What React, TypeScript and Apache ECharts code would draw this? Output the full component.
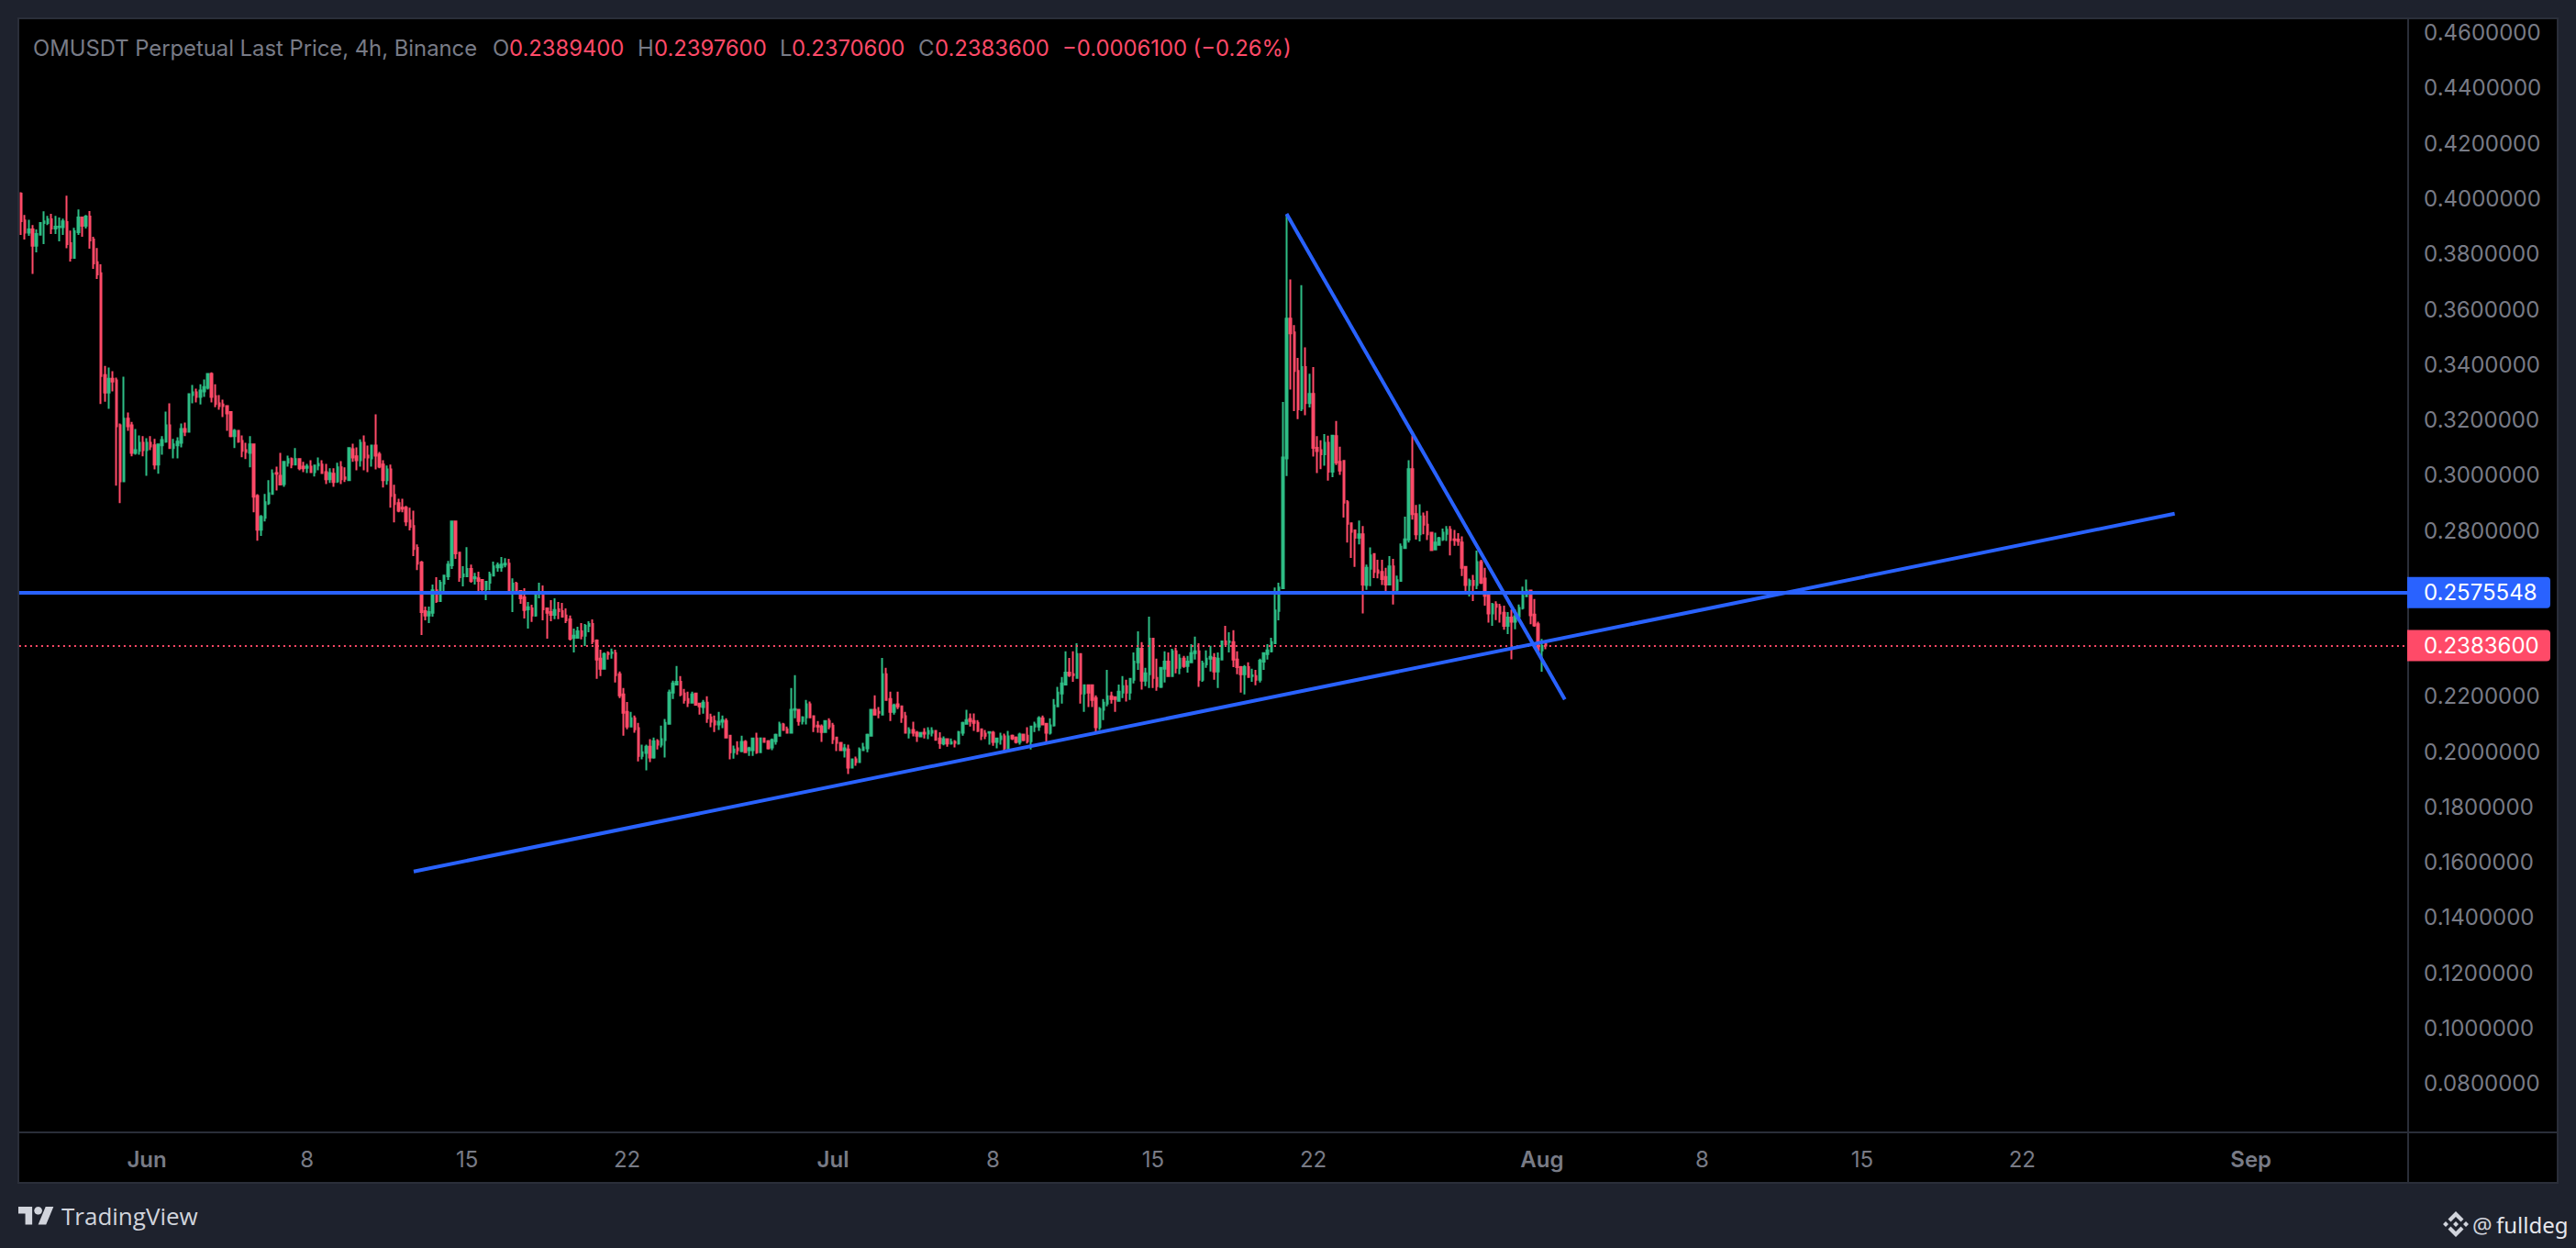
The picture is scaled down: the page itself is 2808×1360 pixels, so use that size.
import React, { useEffect, useRef } from "react";
import * as echarts from "echarts";

// [open, close, low, high], 4h candles
const candlesLateMay = [
[.4018,.3919,.3869,.4023],[.3921,.3877,.3852,.3941],[.3877,.3889,.3866,.3924],[.3889,.3830,.3728,.3905],[.3830,.3872,.3806,.3889],[.3870,.3912,.3870,.3915],
[.3912,.3918,.3836,.3954],[.3912,.3925,.3905,.3938],[.3925,.3892,.3872,.3945],[.3892,.3899,.3872,.3938],[.3897,.3899,.3846,.3932],[.3897,.3918,.3869,.3928],
[.3915,.3836,.3821,.4011],[.3839,.3786,.3773,.3885],[.3786,.3882,.3786,.3895],[.3879,.3932,.3869,.3961],[.3932,.3902,.3862,.3935],[.3902,.3935,.3892,.3941],
[.3935,.3849,.3819,.3955],[.3852,.3766,.3746,.3862],[.3770,.3726,.3710,.3822],[.3730,.3359,.3257,.3763],[.3362,.3299,.3266,.3395],[.3299,.3349,.3240,.3389],
[.3349,.3339,.3303,.3376],[.3343,.3177,.2962,.3353],[.3180,.2978,.2899,.3187],[.2978,.3204,.2975,.3356],[.3204,.3177,.3160,.3227],[.3180,.3081,.3068,.3193],
[.3081,.3091,.3074,.3167],[.3088,.3117,.3074,.3144],[.3117,.3091,.3068,.3141],
];
const candlesJune = [
[.3091,.3117,.2998,.3134],[.3117,.3104,.3091,.3141],[.3108,.3038,.3021,.3131],[.3038,.3111,.3005,.3111],[.3108,.3127,.3074,.3141],[.3121,.3180,.3117,.3230],
[.3180,.3098,.3098,.3260],[.3098,.3111,.3061,.3131],[.3108,.3121,.3061,.3137],[.3117,.3167,.3101,.3187],[.3167,.3157,.3141,.3190],[.3157,.3293,.3157,.3296],
[.3290,.3300,.3260,.3326],[.3300,.3283,.3263,.3313],[.3283,.3306,.3256,.3329],[.3303,.3319,.3283,.3346],[.3316,.3366,.3310,.3369],[.3366,.3283,.3263,.3372],
[.3286,.3257,.3246,.3329],[.3260,.3250,.3237,.3290],[.3256,.3250,.3210,.3273],[.3250,.3223,.3160,.3250],[.3228,.3141,.3137,.3230],[.3141,.3160,.3098,.3167],
[.3160,.3121,.3117,.3164],[.3124,.3088,.3065,.3144],[.3091,.3084,.3058,.3117],[.3081,.3111,.3028,.3141],[.3111,.2922,.2866,.3114],[.2925,.2803,.2763,.2931],
[.2803,.2849,.2780,.2856],[.2846,.2902,.2833,.2932],[.2899,.2935,.2892,.2982],[.2932,.3005,.2932,.3021],[.3008,.3005,.2945,.3031],[.2998,.2966,.2965,.3081],
[.2968,.3048,.2958,.3048],[.3045,.3058,.3031,.3071],[.3058,.3038,.3025,.3064],[.3038,.3058,.3038,.3098],[.3058,.3025,.3018,.3061],[.3031,.3025,.3011,.3048],
[.3027,.3031,.3008,.3041],[.3031,.3011,.3008,.3054],[.3011,.3035,.2995,.3038],[.3035,.3041,.3018,.3064],[.3038,.3008,.3005,.3054],[.3011,.2985,.2968,.3041],
[.2985,.3008,.2972,.3025],[.3005,.2975,.2958,.3025],[.2978,.3028,.2972,.3045],[.3028,.2985,.2968,.3051],[.2992,.2987,.2975,.3028],[.2982,.3098,.2982,.3101],
[.3094,.3064,.3048,.3114],[.3068,.3054,.3018,.3101],[.3054,.3117,.3031,.3130],[.3117,.3064,.3018,.3144],[.3071,.3064,.3011,.3107],[.3061,.3107,.3031,.3107],
[.3107,.3071,.3021,.3220],[.3075,.3031,.3025,.3084],[.3038,.2982,.2955,.3054],[.2982,.3021,.2965,.3035],[.3021,.2925,.2882,.3038],[.2929,.2896,.2829,.2965],
[.2899,.2872,.2866,.2915],[.2882,.2879,.2866,.2915],[.2882,.2833,.2816,.2889],[.2836,.2813,.2800,.2882],[.2816,.2733,.2707,.2872],[.2737,.2680,.2657,.2750],
[.2684,.2505,.2422,.2690],[.2508,.2492,.2475,.2525],[.2492,.2505,.2465,.2525],[.2502,.2584,.2488,.2604],[.2584,.2545,.2538,.2631],[.2545,.2611,.2545,.2621],
[.2608,.2637,.2574,.2637],[.2634,.2677,.2621,.2690],[.2674,.2833,.2661,.2836],[.2833,.2717,.2697,.2836],[.2720,.2631,.2614,.2723],[.2634,.2641,.2598,.2671],
[.2634,.2661,.2634,.2740],[.2661,.2618,.2611,.2677],[.2627,.2631,.2604,.2647],[.2627,.2618,.2574,.2651],[.2621,.2588,.2578,.2624],[.2588,.2614,.2548,.2617],
[.2611,.2641,.2584,.2651],[.2637,.2670,.2637,.2687],[.2667,.2674,.2651,.2684],[.2667,.2677,.2651,.2704],[.2677,.2680,.2667,.2700],[.2680,.2574,.2568,.2697],
[.2574,.2608,.2505,.2627],[.2608,.2574,.2571,.2614],[.2581,.2555,.2535,.2584],[.2558,.2512,.2482,.2591],[.2515,.2522,.2445,.2541],[.2518,.2492,.2469,.2531],
[.2492,.2575,.2488,.2581],[.2575,.2578,.2555,.2611],[.2575,.2515,.2475,.2601],[.2518,.2502,.2409,.2518],[.2505,.2495,.2472,.2548],[.2495,.2512,.2479,.2555],
[.2515,.2508,.2479,.2541],[.2508,.2488,.2488,.2538],[.2492,.2475,.2465,.2518],[.2478,.2409,.2402,.2492],[.2412,.2419,.2359,.2445],[.2412,.2435,.2409,.2452],
[.2435,.2419,.2406,.2465],[.2419,.2455,.2382,.2462],[.2455,.2462,.2432,.2472],[.2462,.2399,.2389,.2478],[.2402,.2333,.2263,.2406],[.2336,.2300,.2273,.2369],
[.2300,.2353,.2297,.2359],[.2356,.2353,.2333,.2363],[.2356,.2359,.2336,.2373],[.2356,.2277,.2250,.2369],[.2280,.2204,.2194,.2290],[.2207,.2141,.2058,.2230],
[.2144,.2091,.2081,.2180],[.2091,.2121,.2091,.2144],[.2121,.2081,.2068,.2131],[.2085,.1985,.1965,.2104],[.1985,.1998,.1972,.2025],[.1995,.2018,.1932,.2025],
[.2018,.1979,.1962,.2045],[.1979,.2038,.1975,.2051],[.2038,.2025,.2008,.2045],[.2025,.2045,.2015,.2094],[.2042,.2104,.1979,.2118],[.2101,.2214,.2098,.2224],
[.2214,.2247,.2190,.2257],[.2243,.2253,.2243,.2310],[.2253,.2207,.2200,.2273],[.2210,.2187,.2174,.2227],[.2190,.2177,.2161,.2217],[.2177,.2207,.2174,.2217],
[.2210,.2170,.2167,.2214],[.2174,.2164,.2134,.2177],[.2161,.2177,.2137,.2187],[.2177,.2121,.2104,.2200],[.2124,.2108,.2088,.2137],[.2111,.2098,.2071,.2131],
[.2098,.2108,.2078,.2144],[.2108,.2114,.2085,.2131],[.2111,.2051,.2051,.2121],[.2058,.1998,.1972,.2061],[.1998,.2008,.1975,.2022],[.2012,.2005,.1989,.2038],
[.2002,.2035,.1998,.2058],[.2035,.1998,.1995,.2042],[.2005,.2012,.1985,.2018],[.2005,.2048,.1985,.2051],[.2048,.1998,.1992,.2068],[.1998,.2048,.1998,.2048],
[.2048,.2035,.2032,.2051],[.2038,.2012,.2008,.2042],[.2015,.2042,.2005,.2048],[.2038,.2061,.2025,.2065],[.2058,.2098,.2058,.2108],[.2098,.2078,.2075,.2104],
];
const candlesJuly = [
[.2081,.2068,.2065,.2091],[.2068,.2151,.2068,.2230],[.2151,.2154,.2121,.2277],[.2151,.2111,.2094,.2154],[.2111,.2124,.2098,.2128],[.2124,.2171,.2098,.2187],
[.2171,.2124,.2121,.2181],[.2128,.2091,.2071,.2131],[.2094,.2091,.2068,.2111],[.2091,.2071,.2035,.2098],[.2071,.2111,.2071,.2114],[.2111,.2091,.2081,.2121],
[.2094,.2045,.2028,.2104],[.2051,.2032,.2002,.2051],[.2032,.2005,.2002,.2035],[.2005,.2012,.1979,.2028],[.2008,.1942,.1919,.2025],[.1942,.1972,.1939,.1975],
[.1972,.1962,.1949,.1982],[.1962,.2008,.1962,.2015],[.2005,.2015,.2005,.2032],[.2012,.2061,.1998,.2065],[.2058,.2151,.2058,.2154],[.2151,.2134,.2134,.2204],
[.2144,.2141,.2121,.2161],[.2134,.2280,.2134,.2339],[.2280,.2187,.2187,.2303],[.2190,.2144,.2111,.2217],[.2144,.2167,.2134,.2174],[.2171,.2164,.2154,.2217],
[.2164,.2124,.2104,.2164],[.2128,.2068,.2068,.2144],[.2068,.2078,.2048,.2088],[.2078,.2068,.2055,.2108],[.2068,.2058,.2035,.2075],[.2055,.2068,.2055,.2068],
[.2068,.2065,.2048,.2085],[.2065,.2075,.2045,.2088],[.2068,.2075,.2055,.2088],[.2075,.2043,.2040,.2078],[.2048,.2031,.2010,.2070],[.2029,.2045,.2023,.2055],
[.2045,.2029,.2018,.2048],[.2029,.2034,.2025,.2048],[.2035,.2032,.2015,.2042],[.2029,.2071,.2025,.2075],[.2068,.2104,.2058,.2108],[.2101,.2114,.2101,.2151],
[.2118,.2111,.2091,.2138],[.2111,.2104,.2075,.2138],[.2104,.2075,.2071,.2114],[.2081,.2058,.2042,.2081],[.2065,.2058,.2045,.2078],[.2068,.2071,.2025,.2071],
[.2068,.2035,.2021,.2075],[.2035,.2048,.2012,.2048],[.2045,.2055,.2025,.2068],[.2055,.2012,.1998,.2065],[.2012,.2055,.2008,.2075],[.2058,.2048,.2042,.2062],
[.2051,.2035,.2029,.2055],[.2035,.2062,.2025,.2068],[.2062,.2042,.2038,.2065],[.2058,.2038,.2029,.2088],[.2038,.2091,.2008,.2091],[.2091,.2098,.2071,.2108],
[.2091,.2121,.2075,.2128],[.2121,.2098,.2095,.2131],[.2101,.2068,.2032,.2101],[.2068,.2095,.2062,.2121],[.2095,.2167,.2091,.2190],[.2164,.2214,.2164,.2234],
[.2210,.2247,.2174,.2270],[.2243,.2286,.2243,.2363],[.2286,.2277,.2270,.2339],[.2280,.2277,.2253,.2363],[.2267,.2353,.2263,.2392],[.2353,.2210,.2174,.2353],
[.2210,.2240,.2144,.2240],[.2240,.2214,.2161,.2243],[.2240,.2187,.2161,.2243],[.2194,.2088,.2071,.2204],[.2088,.2154,.2078,.2161],[.2151,.2177,.2114,.2190],
[.2174,.2200,.2164,.2296],[.2200,.2190,.2174,.2217],[.2197,.2190,.2144,.2197],[.2184,.2217,.2181,.2243],[.2214,.2237,.2194,.2273],[.2237,.2214,.2181,.2260],
[.2214,.2263,.2187,.2263],[.2260,.2326,.2247,.2359],[.2323,.2372,.2296,.2435],[.2372,.2257,.2224,.2396],[.2257,.2283,.2237,.2303],[.2280,.2409,.2230,.2488],
[.2409,.2267,.2230,.2409],[.2267,.2237,.2220,.2336],[.2234,.2303,.2230,.2306],[.2300,.2326,.2250,.2363],[.2326,.2273,.2270,.2359],[.2273,.2363,.2273,.2372],
[.2363,.2303,.2283,.2376],[.2303,.2336,.2280,.2353],[.2336,.2310,.2303,.2346],[.2310,.2326,.2286,.2346],[.2323,.2356,.2323,.2389],[.2356,.2363,.2333,.2416],
[.2363,.2260,.2234,.2392],[.2260,.2319,.2253,.2329],[.2316,.2336,.2303,.2366],[.2336,.2343,.2290,.2383],[.2339,.2290,.2260,.2356],[.2290,.2336,.2230,.2359],
[.2333,.2399,.2333,.2402],[.2399,.2389,.2386,.2455],[.2396,.2399,.2359,.2432],[.2396,.2333,.2306,.2439],[.2333,.2306,.2280,.2363],[.2306,.2280,.2214,.2310],
[.2280,.2306,.2207,.2313],[.2306,.2270,.2267,.2323],[.2273,.2276,.2253,.2300],[.2273,.2260,.2240,.2296],[.2260,.2329,.2250,.2336],[.2326,.2356,.2296,.2359],
[.2353,.2366,.2333,.2389],[.2363,.2396,.2359,.2412],[.2392,.2511,.2392,.2594],[.2509,.2594,.2475,.2611],[.2591,.3064,.2591,.3265],[.3061,.3566,.2997,.3942],
[.3566,.3513,.3310,.3708],[.3516,.3377,.3232,.3543],[.3377,.3238,.3203,.3424],[.3241,.3391,.3232,.3687],[.3391,.3261,.3217,.3462],[.3261,.3294,.3245,.3367],
[.3294,.3099,.3067,.3391],[.3099,.3087,.3008,.3141],[.3091,.3076,.3022,.3126],[.3076,.3117,.3034,.3149],[.3117,.3013,.2980,.3143],[.3013,.3143,.2993,.3143],
[.3141,.3046,.3037,.3196],[.3048,.3017,.3001,.3103],[.3052,.2901,.2847,.3054],[.2902,.2824,.2756,.2910],[.2826,.2795,.2701,.2826],[.2800,.2774,.2668,.2800],
[.2774,.2786,.2750,.2836],[.2786,.2604,.2500,.2816],[.2603,.2665,.2585,.2677],[.2662,.2710,.2599,.2739],[.2715,.2650,.2628,.2717],[.2656,.2647,.2627,.2694],
[.2650,.2624,.2603,.2694],[.2632,.2604,.2571,.2665],[.2604,.2670,.2604,.2707],[.2670,.2585,.2532,.2697],[.2585,.2620,.2571,.2637],[.2618,.2741,.2618,.2753],
[.2736,.2768,.2736,.2850],[.2767,.3022,.2756,.3054],[.3022,.2859,.2839,.3143],[.2859,.2786,.2767,.2892],[.2786,.2851,.2760,.2895],[.2851,.2821,.2786,.2865],
[.2821,.2786,.2765,.2871],[.2792,.2729,.2727,.2792],[.2731,.2756,.2731,.2792],[.2748,.2772,.2745,.2777],[.2768,.2792,.2762,.2807],[.2788,.2803,.2762,.2816],
[.2803,.2765,.2710,.2816],[.2768,.2765,.2745,.2802],[.2767,.2762,.2745,.2790],[.2756,.2665,.2635,.2779],[.2668,.2603,.2580,.2668],[.2603,.2618,.2561,.2626],
[.2618,.2603,.2545,.2639],[.2603,.2686,.2588,.2727],[.2686,.2611,.2606,.2694],[.2626,.2564,.2528,.2665],[.2568,.2500,.2467,.2573],[.2500,.2532,.2455,.2538],
[.2532,.2524,.2476,.2544],[.2524,.2500,.2467,.2535],[.2502,.2455,.2441,.2528],[.2455,.2485,.2425,.2505],[.2485,.2470,.2334,.2514],[.2470,.2490,.2443,.2514],
[.2488,.2520,.2476,.2532],[.2520,.2564,.2514,.2597],[.2562,.2583,.2562,.2623],[.2583,.2493,.2461,.2585],[.2496,.2457,.2452,.2552],[.2461,.2366,.2358,.2470],
];
const candlesAugust = [
[.2366,.2382,.2289,.2408],[.23894,.23836,.23706,.23976],
];

const axisSlots = 627;
const priceTicks = [0.08,0.1,0.12,0.14,0.16,0.18,0.2,0.22,0.28,0.3,0.32,0.34,0.36,0.38,0.4,0.42,0.44,0.46];
const timeTicks: Record<number, string> = { 33:"Jun", 75:"8", 117:"15", 159:"22", 213:"Jul", 255:"8", 297:"15", 339:"22", 399:"Aug", 441:"8", 483:"15", 525:"22", 585:"Sep" };
const monthTicks = ["Jun", "Jul", "Aug", "Sep"];
const risingTrend = [[103, 0.15666], [565, 0.28606]];
const fallingTrend = [[332, 0.3945], [405, 0.2189]];
const levelPrice = 0.2575548;
const lastPrice = 0.23836;
const titleText = "OMUSDT Perpetual Last Price, 4h, Binance";
const ohlcText = [
  { k: "O", v: "0.2389400", kx: 537, vx: 555 },
  { k: "H", v: "0.2397600", kx: 695, vx: 713 },
  { k: "L", v: "0.2370600", kx: 850, vx: 863 },
  { k: "C", v: "0.2383600", kx: 1001, vx: 1019 },
];
const changeText = "\u22120.0006100 (\u22120.26%)";

const GREEN = "#2EBD85";
const RED = "#FF4A68";
const BLUE = "#2962FF";
const GRAY = "#787B86";
const FRAME = "#1E222D";
const EDGE = "#2A2E39";
const FONT = "Inter, sans-serif";
const LOGO = "#D1D4DC";

echarts.graphic.registerShape("tvLogo", echarts.graphic.extendPath("M14 22H7V11H0V4h14v18zM28 22h-8l7.5-18h8L28 22z", {}) as any);
echarts.graphic.registerShape("bnbLogo", echarts.graphic.extendPath(
  "M14 0L22.5 8.5 19.5 11.5 14 6 8.5 11.5 5.5 8.5zM14 28L22.5 19.5 19.5 16.5 14 22 8.5 16.5 5.5 19.5zM14 11L17 14 14 17 11 14zM3 11L6 14 3 17 0 14zM25 11L28 14 25 17 22 14z", {}) as any);

export default function App() {
  const ref = useRef<HTMLDivElement>(null);
  useEffect(() => {
    const chart = echarts.init(ref.current!, undefined, { renderer: "svg" });
    const candles = [...candlesLateMay, ...candlesJune, ...candlesJuly, ...candlesAugust];
    const categories = Array.from({ length: axisSlots }, (_, i) => String(i));
    const txt = (text: string, x: number, fill: string, y = 52, fontSize = 23.8, fontFamily = FONT) => ({
      type: "text", x, y, z: 10,
      style: { text, fill, fontSize, fontFamily, textVerticalAlign: "middle", textAlign: "left" },
    });
    const staticGraphic = [
      { type: "rect", z: 0, shape: { x: 20, y: 20, width: 2768, height: 1269 }, style: { fill: "#000", stroke: EDGE, lineWidth: 2 } },
      { type: "line", z: 0, shape: { x1: 20, y1: 1234, x2: 2788, y2: 1234 }, style: { stroke: EDGE, lineWidth: 2 } },
      { type: "line", z: 0, shape: { x1: 2625, y1: 20, x2: 2625, y2: 1289 }, style: { stroke: EDGE, lineWidth: 2 } },
      txt(titleText, 36, GRAY),
      ...ohlcText.flatMap((o) => [txt(o.k, o.kx, GRAY), txt(o.v, o.vx, RED)]),
      txt(changeText, 1158, RED),
      { type: "tvLogo", x: 20, y: 1310.7, scaleX: 1.08, scaleY: 1.08, z: 10, style: { fill: LOGO } },
      { type: "circle", z: 10, shape: { cx: 41.6, cy: 1319.3, r: 4.3 }, style: { fill: LOGO } },
      txt("TradingView", 67, LOGO, 1325, 26, "'Open Sans', sans-serif"),
      { type: "bnbLogo", x: 2663, y: 1320, z: 10, style: { fill: LOGO } },
      txt("@", 2695, LOGO, 1334, 24, "'Noto Sans', sans-serif"),
      txt("fulldeg", 2721, "#E6E7EC", 1334, 24, "'Noto Sans', sans-serif"),
    ];
    chart.setOption({
      animation: false,
      backgroundColor: FRAME,
      grid: { left: 20.9, top: 20, width: 2605.2, height: 1214, containLabel: false },
      xAxis: {
        type: "category",
        data: categories,
        boundaryGap: true,
        axisLine: { show: false },
        axisTick: { show: false },
        splitLine: { show: false },
        axisLabel: {
          interval: (i: number) => timeTicks[i] !== undefined,
          margin: 17,
          color: GRAY,
          fontFamily: FONT,
          fontSize: 24,
          hideOverlap: false,
          formatter: (_: string, i: number) => {
            const t = timeTicks[i] ?? "";
            return monthTicks.includes(t) ? `{m|${t}}` : t;
          },
          rich: { m: { fontWeight: 600, fontSize: 24, fontFamily: FONT, color: GRAY } },
        },
      },
      yAxis: {
        type: "value",
        position: "right",
        min: 0.0623,
        max: 0.46522,
        axisLine: { show: false },
        axisTick: { show: false },
        splitLine: { show: false },
        axisLabel: {
          customValues: priceTicks,
          margin: 16,
          align: "left",
          color: GRAY,
          fontFamily: FONT,
          fontSize: 24,
          formatter: (v: number) => v.toFixed(7),
        },
      },
      graphic: staticGraphic,
      series: [
        { type: "candlestick", data: candles, barWidth: 2, silent: true,
          itemStyle: { color: GREEN, color0: RED, borderColor: GREEN, borderColor0: RED, borderWidth: 2 } },
        {
          type: "line", data: risingTrend, symbol: "none", silent: true, z: 5, lineStyle: { color: BLUE, width: 4 },
          markLine: {
            silent: true, symbol: "none", animation: false, precision: 7, label: { show: false },
            data: [
              { yAxis: lastPrice, lineStyle: { color: RED, width: 2, type: [2, 4] } },
              { yAxis: levelPrice, lineStyle: { color: BLUE, width: 4, type: "solid" } },
            ],
          },
        },
        { type: "line", data: fallingTrend, symbol: "none", silent: true, z: 5, lineStyle: { color: BLUE, width: 4 } },
      ],
    });
    // Price tags are placed from the y axis's own scale.
    const tag = (price: number, fill: string) => {
      const y = chart.convertToPixel({ yAxisIndex: 0 }, price) as number;
      return [
        { type: "rect", z: 20, shape: { x: 2624, y: y - 17, width: 156, height: 34, r: [0, 4, 4, 0] }, style: { fill } },
        { type: "text", z: 21, x: 2642, y, style: { text: price.toFixed(7), fill: "#FFFFFF", fontSize: 24, fontFamily: FONT, textVerticalAlign: "middle", textAlign: "left" } },
      ];
    };
    chart.setOption({ graphic: [...staticGraphic, ...tag(levelPrice, BLUE), ...tag(lastPrice, RED)] });
    return () => chart.dispose();
  }, []);
  return <div ref={ref} style={{ position: "absolute", left: 0, top: 0, width: 2808, height: 1360 }} />;
}
